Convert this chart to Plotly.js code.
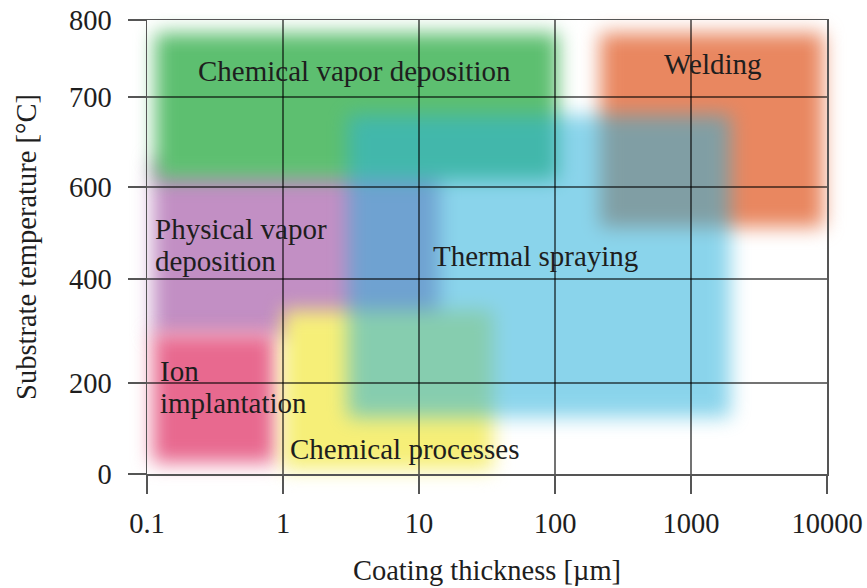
<!DOCTYPE html>
<html>
<head>
<meta charset="utf-8">
<script src="https://cdn.plot.ly/plotly-3.0.1.min.js"></script>
<style>
  html, body { margin: 0; padding: 0; background: #fff; }
  #chart { width: 867px; height: 588px; }
</style>
</head>
<body>
<svg width="0" height="0" style="position:absolute">
  <defs>
    <filter id="soft" filterUnits="userSpaceOnUse" x="-200" y="-200" width="1400" height="1000" color-interpolation-filters="sRGB">
      <feGaussianBlur stdDeviation="9.5"/>
    </filter>
  </defs>
</svg>
<div id="chart"></div>
<script>
// ---- Data ----
// Coating processes: ranges of coating thickness [µm] and substrate temperature [°C]
// (drawn in this order; thermal spraying is translucent on top)
const processNames = ["Physical vapor deposition", "Chemical vapor deposition", "Welding",
                      "Ion implantation", "Chemical processes", "Thermal spraying"];
const thickMin = [0.11, 0.115, 215, 0.11, 1.0, 3.0];
const thickMax = [14, 105, 9400, 0.88, 35, 1950];
const tempMin  = [290, 608, 513, 25, 10, 125];
const tempMax  = [630, 783, 783, 295, 340, 680];
const colors   = ["#c28fc4", "#5dbf70", "#e98760", "#e8698f", "#f6ef78", "#2cb2dc"];
const opac     = [1, 1, 1, 1, 1, 0.55];

// x tick labels (log axis)
const xTickVals = [0.1, 1, 10, 100, 1000, 10000];
const xTickText = ["0.1", "1", "10", "100", "1000", "10000"];
// y tick labels (the original axis is non-uniformly spaced)
const yTickTemps = [0, 200, 400, 600, 700, 800];
const yTickPos   = [0, 91, 195, 287, 377, 454];

// piecewise-linear map from temperature to axis position
function tAxis(t) {
  for (let i = 0; i < yTickTemps.length - 1; i++) {
    if (t <= yTickTemps[i + 1] || i === yTickTemps.length - 2) {
      const f = (t - yTickTemps[i]) / (yTickTemps[i + 1] - yTickTemps[i]);
      return yTickPos[i] + f * (yTickPos[i + 1] - yTickPos[i]);
    }
  }
}

const shapes = processNames.map((n, i) => ({
  type: "rect", xref: "x", yref: "y", layer: "below",
  x0: thickMin[i], x1: thickMax[i], y0: tAxis(tempMin[i]), y1: tAxis(tempMax[i]),
  fillcolor: colors[i], opacity: opac[i], line: { width: 0 }
}));

const FONT = "Liberation Serif";
const FS = 29;
const lab = (text, x, t, xanchor) => ({
  text, x: x, y: tAxis(t), xref: "x", yref: "y", showarrow: false,
  xanchor: xanchor, yanchor: "middle", align: xanchor,
  font: { family: FONT, size: FS, color: "#1e1e1e" }
});
const annotations = [
  lab("Chemical vapor deposition", 0.529, 734, "center"),
  lab("Welding", 3.162, 743, "center"),
  lab("Physical vapor", -0.955, 509, "left"),
  lab("deposition", -0.955, 439, "left"),
  lab("Thermal spraying", 1.853, 450, "center"),
  lab("Ion", -0.92, 223, "left"),
  lab("implantation", -0.92, 156, "left"),
  lab("Chemical processes", 0.897, 55, "center")
];

// invisible trace so both axes are set up
const traces = [{
  x: [0.1, 10000], y: [0, 454], type: "scatter", mode: "markers",
  marker: { opacity: 0 }, hoverinfo: "skip", showlegend: false
}];

const axisCommon = {
  showline: true, mirror: true, linecolor: "#555", linewidth: 1.5,
  showgrid: true, gridcolor: "rgba(0,0,0,0.55)", gridwidth: 1.1,
  ticks: "outside", ticklen: 18, tickwidth: 1.5, tickcolor: "#555",
  zeroline: false, tickfont: { family: FONT, size: 28.5, color: "#1e1e1e" }
};

const layout = {
  width: 867, height: 588,
  margin: { l: 147, r: 40, t: 20, b: 114 },
  paper_bgcolor: "#fff", plot_bgcolor: "#fff",
  showlegend: false,
  xaxis: Object.assign({}, axisCommon, {
    type: "log", range: [-1, 4], tickvals: xTickVals, ticktext: xTickText,
    ticklabelstandoff: 5,
    title: { text: "Coating thickness [µm]", standoff: 22, font: { family: FONT, size: 28.5, color: "#1e1e1e" } }
  }),
  yaxis: Object.assign({}, axisCommon, {
    type: "linear", range: [0, 454], tickvals: yTickPos, ticktext: yTickTemps.map(String),
    ticklabelstandoff: 10,
    title: { text: "Substrate temperature [°C]", standoff: 24, font: { family: FONT, size: 28.5, color: "#1e1e1e" } }
  }),
  shapes: shapes,
  annotations: annotations
};

function softenShapes() {
  const root = document.querySelector("#chart .main-svg");
  document.querySelectorAll("#chart .shapelayer path").forEach(p => {
    p.setAttribute("filter", "url(#soft)");
    p.style.filter = "url(#soft)";
    let el = p;
    while (el && el !== root) {
      if (el.removeAttribute) el.removeAttribute("clip-path");
      if (el.style) el.style.clipPath = "none";
      el = el.parentNode;
    }
  });
}

Plotly.newPlot("chart", traces, layout, { staticPlot: true, displayModeBar: false }).then(softenShapes);
</script>
</body>
</html>
